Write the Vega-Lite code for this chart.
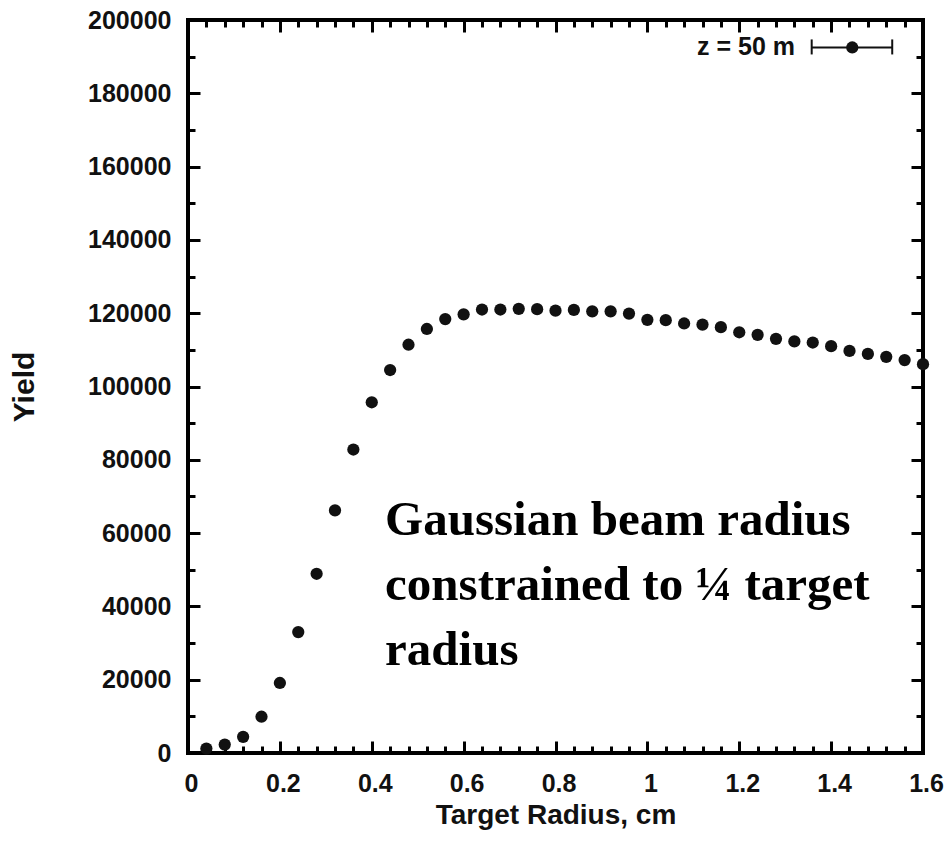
{
  "$schema": "https://vega.github.io/schema/vega-lite/v6.json",
  "width": 735,
  "height": 733,
  "autosize": {"type": "none"},
  "padding": {"left": 188, "top": 20, "right": 28, "bottom": 88},
  "background": "white",
  "config": {
    "view": {"stroke": "black", "strokeWidth": 4},
    "axis": {
      "domain": false, "grid": false, "tickColor": "black", "tickWidth": 3,
      "labelFont": "Liberation Sans", "labelFontWeight": "bold", "labelFontSize": 25, "labelColor": "#111",
      "titleFont": "Liberation Sans", "titleFontWeight": "bold", "titleFontSize": 28, "titleColor": "#111",
      "labelFlush": false
    }
  },
  "datasets": {
    "yield": [
      {"r": 0.04, "y": 1200}, {"r": 0.08, "y": 2300}, {"r": 0.12, "y": 4400}, {"r": 0.16, "y": 9900},
      {"r": 0.20, "y": 19100}, {"r": 0.24, "y": 33000}, {"r": 0.28, "y": 48900}, {"r": 0.32, "y": 66200},
      {"r": 0.36, "y": 82800}, {"r": 0.40, "y": 95700}, {"r": 0.44, "y": 104500}, {"r": 0.48, "y": 111400},
      {"r": 0.52, "y": 115700}, {"r": 0.56, "y": 118400}, {"r": 0.60, "y": 119700}, {"r": 0.64, "y": 121000},
      {"r": 0.68, "y": 121000}, {"r": 0.72, "y": 121200}, {"r": 0.76, "y": 121100}, {"r": 0.80, "y": 120700},
      {"r": 0.84, "y": 120900}, {"r": 0.88, "y": 120500}, {"r": 0.92, "y": 120500}, {"r": 0.96, "y": 119900},
      {"r": 1.00, "y": 118200}, {"r": 1.04, "y": 118100}, {"r": 1.08, "y": 117200}, {"r": 1.12, "y": 116900},
      {"r": 1.16, "y": 116200}, {"r": 1.20, "y": 114800}, {"r": 1.24, "y": 114100}, {"r": 1.28, "y": 113000},
      {"r": 1.32, "y": 112300}, {"r": 1.36, "y": 112000}, {"r": 1.40, "y": 111000}, {"r": 1.44, "y": 109700},
      {"r": 1.48, "y": 108900}, {"r": 1.52, "y": 108100}, {"r": 1.56, "y": 107200}, {"r": 1.60, "y": 106100}
    ],
    "notes": [{"note": "Gaussian beam radius\nconstrained to ¼ target\nradius"}],
    "legend": [{"label": "z = 50 m"}]
  },
  "layer": [
    {
      "data": {"name": "yield"},
      "mark": {"type": "point", "filled": true, "color": "#111", "opacity": 1, "size": 150},
      "encoding": {
        "x": {"field": "r", "type": "quantitative", "scale": {"domain": [0, 1.6], "nice": false, "zero": false},
          "axis": {"orient": "bottom", "values": [0, 0.2, 0.4, 0.6, 0.8, 1, 1.2, 1.4, 1.6], "format": ".1~f",
            "tickSize": -12, "labelPadding": 30, "labelOffset": 3, "title": "Target Radius, cm", "titlePadding": 5}},
        "y": {"field": "y", "type": "quantitative", "scale": {"domain": [0, 200000], "nice": false},
          "axis": {"orient": "left", "values": [0, 20000, 40000, 60000, 80000, 100000, 120000, 140000, 160000, 180000, 200000], "format": "d",
            "tickSize": -12, "labelPadding": 29, "title": "Yield", "titleFontSize": 30, "titlePadding": 48}}
      }
    },
    {
      "data": {"name": "yield"},
      "mark": {"type": "point", "opacity": 0},
      "encoding": {
        "x": {"field": "r", "type": "quantitative", "scale": {"domain": [0, 1.6], "nice": false, "zero": false},
          "axis": {"orient": "bottom", "values": [0.04,0.08,0.12,0.16,0.24,0.28,0.32,0.36,0.44,0.48,0.52,0.56,0.64,0.68,0.72,0.76,0.84,0.88,0.92,0.96,1.04,1.08,1.12,1.16,1.24,1.28,1.32,1.36,1.44,1.48,1.52,1.56],
            "tickSize": -7, "labels": false, "title": null}},
        "y": {"field": "y", "type": "quantitative", "scale": {"domain": [0, 200000], "nice": false},
          "axis": {"orient": "left", "values": [10000, 30000, 50000, 70000, 90000, 110000, 130000, 150000, 170000, 190000],
            "tickSize": -7, "labels": false, "title": null}}
      }
    },
    {
      "data": {"name": "yield"},
      "mark": {"type": "point", "opacity": 0},
      "encoding": {
        "x": {"field": "r", "type": "quantitative", "scale": {"domain": [0, 1.6], "nice": false, "zero": false},
          "axis": {"orient": "top", "values": [0, 0.2, 0.4, 0.6, 0.8, 1, 1.2, 1.4, 1.6],
            "tickSize": -12, "labels": false, "title": null}},
        "y": {"field": "y", "type": "quantitative", "scale": {"domain": [0, 200000], "nice": false},
          "axis": {"orient": "right", "values": [0, 20000, 40000, 60000, 80000, 100000, 120000, 140000, 160000, 180000, 200000],
            "tickSize": -12, "labels": false, "title": null}}
      }
    },
    {
      "data": {"name": "yield"},
      "mark": {"type": "point", "opacity": 0},
      "encoding": {
        "x": {"field": "r", "type": "quantitative", "scale": {"domain": [0, 1.6], "nice": false, "zero": false},
          "axis": {"orient": "top", "values": [0.04,0.08,0.12,0.16,0.24,0.28,0.32,0.36,0.44,0.48,0.52,0.56,0.64,0.68,0.72,0.76,0.84,0.88,0.92,0.96,1.04,1.08,1.12,1.16,1.24,1.28,1.32,1.36,1.44,1.48,1.52,1.56],
            "tickSize": -7, "labels": false, "title": null}},
        "y": {"field": "y", "type": "quantitative", "scale": {"domain": [0, 200000], "nice": false},
          "axis": {"orient": "right", "values": [10000, 30000, 50000, 70000, 90000, 110000, 130000, 150000, 170000, 190000],
            "tickSize": -7, "labels": false, "title": null}}
      }
    },
    {
      "data": {"name": "notes"},
      "mark": {"type": "text", "font": "Liberation Serif", "fontWeight": "bold", "fontSize": 49, "color": "black",
        "align": "left", "baseline": "alphabetic", "lineBreak": "\n", "lineHeight": 65},
      "encoding": {
        "x": {"datum": 0.429, "type": "quantitative", "scale": {"domain": [0, 1.6], "nice": false, "zero": false}, "axis": null},
        "y": {"datum": 59600, "type": "quantitative", "scale": {"domain": [0, 200000], "nice": false}, "axis": null},
        "text": {"field": "note", "type": "nominal"}
      }
    },
    {
      "data": {"name": "legend"},
      "mark": {"type": "rule", "color": "#111", "strokeWidth": 2},
      "encoding": {
        "x": {"datum": 1.3577, "type": "quantitative", "scale": {"domain": [0, 1.6], "nice": false, "zero": false}, "axis": null},
        "x2": {"datum": 1.533},
        "y": {"datum": 192500, "type": "quantitative", "scale": {"domain": [0, 200000], "nice": false}, "axis": null}
      }
    },
    {
      "data": {"name": "legend"},
      "mark": {"type": "rule", "color": "#111", "strokeWidth": 2},
      "encoding": {
        "x": {"datum": 1.3577, "type": "quantitative", "scale": {"domain": [0, 1.6], "nice": false, "zero": false}, "axis": null},
        "y": {"datum": 194700, "type": "quantitative", "scale": {"domain": [0, 200000], "nice": false}, "axis": null},
        "y2": {"datum": 190600}
      }
    },
    {
      "data": {"name": "legend"},
      "mark": {"type": "rule", "color": "#111", "strokeWidth": 2},
      "encoding": {
        "x": {"datum": 1.533, "type": "quantitative", "scale": {"domain": [0, 1.6], "nice": false, "zero": false}, "axis": null},
        "y": {"datum": 194700, "type": "quantitative", "scale": {"domain": [0, 200000], "nice": false}, "axis": null},
        "y2": {"datum": 190600}
      }
    },
    {
      "data": {"name": "legend"},
      "mark": {"type": "point", "filled": true, "color": "#111", "opacity": 1, "size": 150},
      "encoding": {
        "x": {"datum": 1.446, "type": "quantitative", "scale": {"domain": [0, 1.6], "nice": false, "zero": false}, "axis": null},
        "y": {"datum": 192500, "type": "quantitative", "scale": {"domain": [0, 200000], "nice": false}, "axis": null}
      }
    },
    {
      "data": {"name": "legend"},
      "mark": {"type": "text", "font": "Liberation Sans", "fontWeight": "bold", "fontSize": 25, "color": "#111",
        "align": "right", "baseline": "middle"},
      "encoding": {
        "x": {"datum": 1.3215, "type": "quantitative", "scale": {"domain": [0, 1.6], "nice": false, "zero": false}, "axis": null},
        "y": {"datum": 192700, "type": "quantitative", "scale": {"domain": [0, 200000], "nice": false}, "axis": null},
        "text": {"field": "label", "type": "nominal"}
      }
    }
  ],
  "resolve": {"axis": {"x": "independent", "y": "independent"}}
}
